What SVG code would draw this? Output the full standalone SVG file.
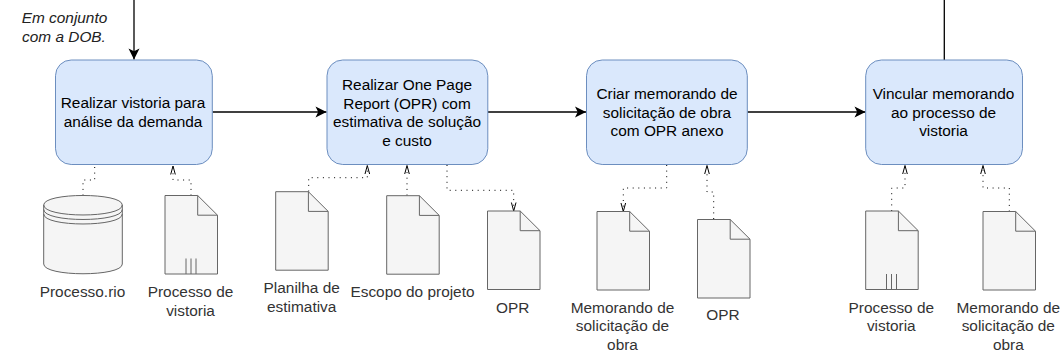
<svg xmlns="http://www.w3.org/2000/svg" width="1061" height="358" viewBox="0 0 1061 358">
<style>
text{font-family:"Liberation Sans",Arial,sans-serif;font-size:15.400px;text-anchor:middle}
.p{fill:#dae8fc;stroke:#6c8ebf;stroke-width:1}
.t{fill:#000}
.d{fill:#f5f5f5;stroke:#666;stroke-width:1}
.n{fill:none;stroke:#666;stroke-width:1}
.l{fill:#333}
.i{font-style:italic;fill:#222}
.s{fill:none;stroke:#000;stroke-width:1.300}
.o{fill:none;stroke:#000;stroke-width:1;stroke-dasharray:1 4.600}
.h{fill:none;stroke:#000;stroke-width:1}
</style>
<defs>
<marker id="a" markerUnits="userSpaceOnUse" markerWidth="14" markerHeight="14" refX="11.500" refY="7" orient="auto"><path d="M0.500 1.500L11.500 7L0.500 12.500L3.200 7Z" fill="#000"/></marker>
<g id="doc"><path class="d" d="M0 0H32.700L52.500 19.700V78.500H0Z"/><path class="n" d="M32.700 0V19.700H52.500"/></g>
</defs>
<rect width="1061" height="358" fill="#fff"/>
<g id="connectors">
<path class="s" d="M134 0V59.500" marker-end="url(#a)"/>
<path class="s" d="M212.500 112H326.500" marker-end="url(#a)"/>
<path class="s" d="M488 112H586" marker-end="url(#a)"/>
<path class="s" d="M747.500 112H865.500" marker-end="url(#a)"/>
<path class="s" d="M944.300 0V60"/>
<path class="o" d="M83 195.500V180H94.700V165"/>
<path class="o" d="M191 195.500V180H173V170"/><path class="h" d="M170.700 174.500L173 166L175.300 174.500"/>
<path class="o" d="M308.700 191.500V177.700H367.300V170"/><path class="h" d="M365 174L367.300 165.500L369.600 174"/>
<path class="o" d="M407 195.500V170"/><path class="h" d="M404.700 174L407 165.500L409.300 174"/>
<path class="o" d="M447 165V190.300H513.700V207"/><path class="h" d="M511.400 202.500L513.700 211L516 202.500"/>
<path class="o" d="M666.700 165V188H623.300V207"/><path class="h" d="M621 203L623.300 211.500L625.600 203"/>
<path class="o" d="M713.700 219V192H707V170"/><path class="h" d="M704.700 174L707 165.500L709.300 174"/>
<path class="o" d="M891.700 211V188H905V170"/><path class="h" d="M902.700 174L905 165.500L907.300 174"/>
<path class="o" d="M1009.300 211.500V188H983V170"/><path class="h" d="M980.700 174L983 165.500L985.300 174"/>
</g>
<g id="note"><text class="i" x="64.500" y="23">Em conjunto</text><text class="i" x="64" y="42">com a DOB.</text></g>
<g id="n1"><rect class="p" x="55.500" y="60" width="156.800" height="104.500" rx="15.700"/><text class="t" x="133" y="108">Realizar vistoria para</text><text class="t" x="133" y="127">análise da demanda</text></g>
<g id="n2"><rect class="p" x="327" y="60" width="160.800" height="104.500" rx="15.700"/><text class="t" x="407" y="90">Realizar One Page</text><text class="t" x="407" y="108.500">Report (OPR) com</text><text class="t" x="407" y="127">estimativa de solução</text><text class="t" x="407" y="146">e custo</text></g>
<g id="n3"><rect class="p" x="586.500" y="60" width="160.800" height="104.500" rx="15.700"/><text class="t" x="667" y="99">Criar memorando de</text><text class="t" x="667" y="117.500">solicitação de obra</text><text class="t" x="667" y="136">com OPR anexo</text></g>
<g id="n4"><rect class="p" x="865.700" y="60" width="156.800" height="104.500" rx="15.700"/><text class="t" x="943.500" y="99">Vincular memorando</text><text class="t" x="943.500" y="117.500">ao processo de</text><text class="t" x="943.500" y="136">vistoria</text></g>
<g id="db"><path class="d" d="M43.700 205C43.700 192.300 122.300 192.300 122.300 205V264C122.300 277 43.700 277 43.700 264Z"/><path class="n" d="M43.700 205C43.700 218.300 122.300 218.300 122.300 205M43.700 209.500C43.700 222.800 122.300 222.800 122.300 209.500M43.700 214C43.700 227.300 122.300 227.300 122.300 214"/><text class="l" x="82.500" y="297">Processo.rio</text></g>
<g id="d1"><use href="#doc" x="165" y="195.500"/><path class="n" d="M186 274V258.500M191 274V258.500M196 274V258.500"/><text class="l" x="190.500" y="297">Processo de</text><text class="l" x="190.500" y="315.500">vistoria</text></g>
<g id="d2"><use href="#doc" x="275.700" y="191.700"/><text class="l" x="301.700" y="293">Planilha de</text><text class="l" x="301.700" y="311.500">estimativa</text></g>
<g id="d3"><use href="#doc" x="386.700" y="195.700"/><text class="l" x="412.500" y="297">Escopo do projeto</text></g>
<g id="d4"><use href="#doc" x="487.500" y="211"/><text class="l" x="512.700" y="313">OPR</text></g>
<g id="d5"><use href="#doc" x="597" y="211.500"/><text class="l" x="622.500" y="312.500">Memorando de</text><text class="l" x="622.500" y="331">solicitação de</text><text class="l" x="622.500" y="350">obra</text></g>
<g id="d6"><use href="#doc" x="697.500" y="219.500"/><text class="l" x="723" y="320">OPR</text></g>
<g id="d7"><use href="#doc" x="865.700" y="211"/><path class="n" d="M886.500 290V274M891.500 290V274M896.500 290V274"/><text class="l" x="891.300" y="312.500">Processo de</text><text class="l" x="891.300" y="331">vistoria</text></g>
<g id="d8"><use href="#doc" x="983" y="211.500"/><text class="l" x="1008.300" y="312.500">Memorando de</text><text class="l" x="1008.300" y="331">solicitação de</text><text class="l" x="1008.300" y="349.500">obra</text></g>
</svg>
